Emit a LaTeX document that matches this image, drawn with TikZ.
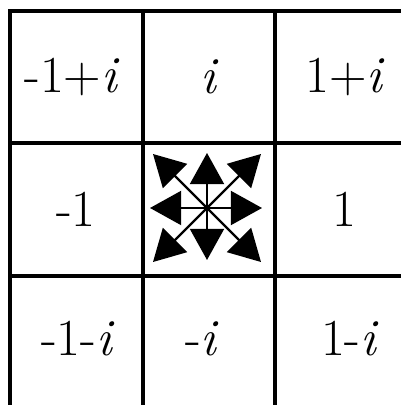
\documentclass[tikz,border=0pt]{standalone}
\usetikzlibrary{arrows.meta}
\begin{document}
\begin{tikzpicture}[x=0.025cm,y=0.025cm,
    grid/.style={line width=2.2pt},
    lab/.style={font=\fontsize{37}{40}\selectfont},
    dir/.style={line width=1.6pt,-{Triangle[length=0.78cm,width=0.85cm]}}]
  \useasboundingbox (0,0) rectangle (401,405);
  \def\xa{10};\def\xb{143};\def\xc{275};\def\xr{401};
  \def\ya{394};\def\yb{262};\def\yc{129};
  % grid lines
  \draw[grid] (\xa,0)--(\xa,\ya)--(\xr,\ya);
  \draw[grid] (\xb,0)--(\xb,\ya) (\xc,0)--(\xc,\ya);
  \draw[grid] (\xa,\yb)--(\xr,\yb) (\xa,\yc)--(\xr,\yc);
  % labels
  \node[lab] (nw) at (72,328) {-1+\textit{i}};
  \node[lab] (n)  at (210,328) {\textit{i}};
  \node[lab] (ne) at (345,328) {1+\textit{i}};
  \node[lab] (w)  at (76,196) {-1};
  \node[lab] (e)  at (344,196) {1};
  \node[lab] (sw) at (78,66) {-1-\textit{i}};
  \node[lab] (s)  at (202,66) {-\textit{i}};
  \node[lab] (se) at (350,66) {1-\textit{i}};
  % the eight moves
  \coordinate (c) at (207,197);
  \foreach \dx/\dy [count=\k] in {55/0,54/54,0/55,-54/54,-57/0,-54/-54,0/-52,54/-54}{
    \coordinate (t\k) at (207+\dx,197+\dy);
    \draw[dir] (c)--(t\k);}
\end{tikzpicture}
\end{document}
